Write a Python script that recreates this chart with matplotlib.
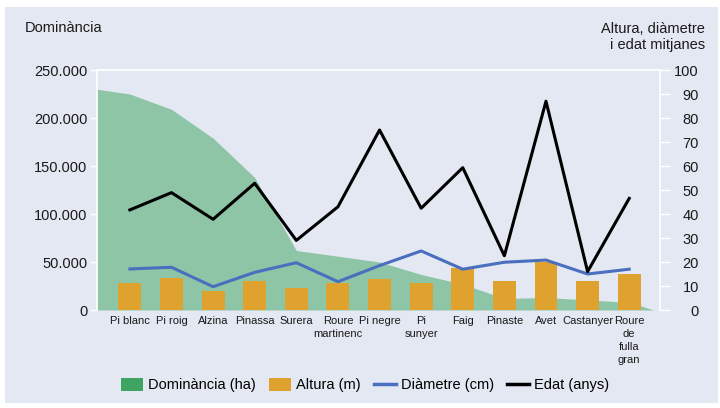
import matplotlib
matplotlib.use('Agg')
import matplotlib.pyplot as plt
import numpy as np
from matplotlib.patches import Rectangle, Patch
from matplotlib.lines import Line2D
from matplotlib.ticker import FuncFormatter

plt.rcParams['font.family'] = ['Liberation Sans', 'DejaVu Sans']

# Data
species = ['Pi blanc', 'Pi roig', 'Alzina', 'Pinassa', 'Surera', 'Roure\nmartinenc',
           'Pi negre', 'Pi\nsunyer', 'Faig', 'Pinaste', 'Avet', 'Castanyer',
           'Roure\nde\nfulla\ngran']
dominancia = [225000, 209000, 179000, 138000, 62000, 56000, 50000, 37000,
              27000, 12000, 13000, 10500, 8000]
dom_left_edge = 230000   # value where the area meets the left axis
dom_right_edge = 0       # value where the area meets the right axis
altura = [11.2, 13.2, 7.9, 12.0, 9.0, 11.2, 13.1, 11.2, 17.3, 12.0, 19.8, 12.0, 14.9]
diametre = [17.1, 17.8, 9.7, 15.7, 19.7, 11.8, 18.5, 24.6, 17.0, 19.9, 20.8, 15.0, 17.0]
edat = [41.7, 48.9, 37.8, 52.8, 29.0, 43.0, 75.0, 42.4, 59.3, 22.6, 87.0, 16.0, 46.5]

bg = '#E4E8F2'
green = '#3DA561'
orange = '#E0A22E'
blue = '#4A6FBF'

fig = plt.figure(figsize=(7.2, 4.08), dpi=100, facecolor='white')
fig.patches.append(Rectangle((5 / 720, 1 - 403 / 408), 713 / 720, 396 / 408,
                             transform=fig.transFigure, facecolor=bg,
                             edgecolor='none', zorder=-10))

ax = fig.add_axes([97 / 720, 1 - 310 / 408, 563 / 720, 240 / 408])
ax.set_facecolor(bg)
x = np.arange(len(species))
xmin, xmax = -0.79, 12.74
ax.set_xlim(xmin, xmax)
ax.set_ylim(0, 250000)

xa = np.concatenate([[xmin], x, [xmax - 0.15]])
ya = np.concatenate([[dom_left_edge], dominancia, [dom_right_edge]])
ax.fill_between(xa, 0, ya, color=green, alpha=0.52, linewidth=0, zorder=1)

ax2 = ax.twinx()
ax2.set_ylim(0, 100)
ax2.set_xlim(xmin, xmax)
ax2.bar(x, altura, width=0.55, color=orange, zorder=2)
ax2.plot(x, diametre, color=blue, linewidth=2.2, zorder=3)
ax2.plot(x, edat, color='black', linewidth=2.2, zorder=4)

ax.yaxis.set_major_formatter(FuncFormatter(lambda v, p: f'{int(v):,}'.replace(',', '.')))
ax.set_yticks(np.arange(0, 250001, 50000))
ax2.set_yticks(np.arange(0, 101, 10))

for a in (ax, ax2):
    for s in a.spines.values():
        s.set_visible(False)
ax.spines['left'].set_visible(True)
ax.spines['left'].set_color('white')
ax.spines['top'].set_visible(True)
ax.spines['top'].set_color('white')
ax2.spines['right'].set_visible(True)
ax2.spines['right'].set_color('white')
for a in (ax, ax2):
    for s in a.spines.values():
        s.set_linewidth(1.2)

ax.tick_params(axis='y', colors='white', length=5, width=1, labelcolor='#1a1a1a',
               labelsize=10.5, pad=2)
ax2.tick_params(axis='y', colors='white', length=7, width=1, labelcolor='#1a1a1a',
                labelsize=10.5, pad=21)
for lab in ax2.get_yticklabels():
    lab.set_horizontalalignment('right')

ax.set_xticks(x)
ax.set_xticklabels(species, fontsize=8, linespacing=1.4, va='top')
ax.tick_params(axis='x', length=0, pad=4, labelcolor='#1a1a1a')

fig.text(25 / 720, 1 - 28 / 408, 'Dominància', fontsize=10.5, va='center', ha='left',
         color='#1a1a1a')
fig.text(705 / 720, 1 - 37 / 408, 'Altura, diàmetre\ni edat mitjanes', fontsize=10.5,
         va='center', ha='right', multialignment='right', linespacing=1.1, color='#1a1a1a')

handles = [Patch(facecolor=green, edgecolor='none'),
           Patch(facecolor=orange, edgecolor='none'),
           Line2D([], [], color=blue, linewidth=2.5),
           Line2D([], [], color='black', linewidth=2.5)]
labels = ['Dominància (ha)', 'Altura (m)', 'Diàmetre (cm)', 'Edat (anys)']
fig.legend(handles, labels, loc='center', bbox_to_anchor=(365 / 720, 1 - 385 / 408),
           ncol=4, frameon=False, fontsize=10.5, handlelength=1.5, handleheight=1.0,
           handletextpad=0.35, columnspacing=0.9)

fig.savefig('out.png', dpi=100, facecolor='white')
